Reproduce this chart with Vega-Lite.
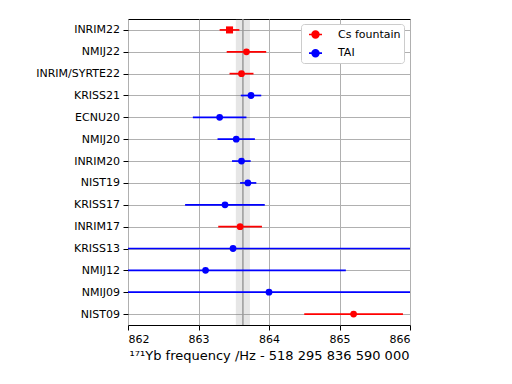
{
  "$schema": "https://vega.github.io/schema/vega-lite/v6.json",
  "width": 282,
  "height": 306,
  "autosize": {"type": "none"},
  "padding": {"left": 128, "top": 19, "right": 102, "bottom": 59},
  "background": "white",
  "config": {
    "font": "DejaVu Sans",
    "view": {"stroke": "black", "strokeWidth": 1},
    "axis": {
      "domain": false,
      "tickColor": "black",
      "tickSize": 5,
      "tickWidth": 1,
      "labelColor": "black",
      "labelFontSize": 11,
      "gridColor": "#b0b0b0",
      "gridWidth": 1,
      "titleColor": "black",
      "titleFontWeight": "normal"
    }
  },
  "datasets": {
    "meas": [
      {"name": "INRIM22", "type": "Cs fountain", "marker": "square", "value": 863.44, "lo": 863.30, "hi": 863.58},
      {"name": "NMIJ22", "type": "Cs fountain", "marker": "circle", "value": 863.68, "lo": 863.40, "hi": 863.96},
      {"name": "INRIM/SYRTE22", "type": "Cs fountain", "marker": "circle", "value": 863.61, "lo": 863.44, "hi": 863.78},
      {"name": "KRISS21", "type": "TAI", "marker": "circle", "value": 863.745, "lo": 863.60, "hi": 863.89},
      {"name": "ECNU20", "type": "TAI", "marker": "circle", "value": 863.30, "lo": 862.92, "hi": 863.68},
      {"name": "NMIJ20", "type": "TAI", "marker": "circle", "value": 863.535, "lo": 863.27, "hi": 863.80},
      {"name": "INRIM20", "type": "TAI", "marker": "circle", "value": 863.61, "lo": 863.475, "hi": 863.74},
      {"name": "NIST19", "type": "TAI", "marker": "circle", "value": 863.70, "lo": 863.59, "hi": 863.82},
      {"name": "KRISS17", "type": "TAI", "marker": "circle", "value": 863.376, "lo": 862.81, "hi": 863.94},
      {"name": "INRIM17", "type": "Cs fountain", "marker": "circle", "value": 863.59, "lo": 863.28, "hi": 863.90},
      {"name": "KRISS13", "type": "TAI", "marker": "circle", "value": 863.49, "lo": 855.4, "hi": 871.6},
      {"name": "NMIJ12", "type": "TAI", "marker": "circle", "value": 863.10, "lo": 861.1, "hi": 865.09},
      {"name": "NMIJ09", "type": "TAI", "marker": "circle", "value": 864.0, "lo": 850.0, "hi": 878.0},
      {"name": "NIST09", "type": "Cs fountain", "marker": "circle", "value": 865.2, "lo": 864.50, "hi": 865.90}
    ],
    "band": [{"lo": 863.53, "hi": 863.73, "center": 863.63}]
  },
  "layer": [
    {
      "data": {"name": "band"},
      "mark": {"type": "rect", "color": "#808080", "opacity": 0.2},
      "encoding": {
        "x": {
          "field": "lo", "type": "quantitative",
          "scale": {"domain": [862, 866], "nice": false, "zero": false},
          "axis": {"values": [862, 863, 864, 865, 866], "format": "d", "title": "¹⁷¹Yb frequency /Hz - 518 295 836 590 000", "titleFontSize": 13, "titlePadding": 5, "labelPadding": 3, "grid": true}
        },
        "x2": {"field": "hi"}
      }
    },
    {
      "data": {"name": "band"},
      "mark": {"type": "rule", "color": "#9a9a9a", "strokeWidth": 1.5},
      "encoding": {
        "x": {"field": "center", "type": "quantitative", "title": "¹⁷¹Yb frequency /Hz - 518 295 836 590 000"}
      }
    },
    {
      "data": {"name": "meas"},
      "mark": {"type": "rule", "strokeWidth": 1.7, "clip": true},
      "encoding": {
        "y": {"field": "name", "type": "nominal", "sort": null, "scale": {"type": "point", "padding": 0.5}, "axis": {"title": null, "labelPadding": 3.5, "grid": true}},
        "x": {"field": "lo", "type": "quantitative", "title": "¹⁷¹Yb frequency /Hz - 518 295 836 590 000"},
        "x2": {"field": "hi"},
        "color": {
          "field": "type", "type": "nominal",
          "scale": {"domain": ["Cs fountain", "TAI"], "range": ["#ff0000", "#0000ff"]},
          "legend": {
            "orient": "none", "legendX": 173, "legendY": 5, "title": null,
            "fillColor": "white", "strokeColor": "#cccccc", "cornerRadius": 3, "padding": 3,
            "labelFontSize": 11, "labelColor": "black", "labelOffset": 15,
            "symbolOffset": 4,
            "symbolType": "M-1,0L1,0M-0.52,0A0.52,0.52,0,1,1,0.52,0A0.52,0.52,0,1,1,-0.52,0Z",
            "symbolSize": 169, "symbolStrokeWidth": 1.7, "rowPadding": 3.7,
            "encode": {"symbols": {"update": {"fill": {"scale": "color", "field": "value"}, "stroke": {"scale": "color", "field": "value"}, "opacity": {"value": 1}}}}
          }
        }
      }
    },
    {
      "data": {"name": "meas"},
      "mark": {"type": "point", "filled": true, "opacity": 1},
      "encoding": {
        "y": {"field": "name", "type": "nominal", "sort": null},
        "x": {"field": "value", "type": "quantitative", "title": "¹⁷¹Yb frequency /Hz - 518 295 836 590 000"},
        "color": {"field": "type", "type": "nominal"},
        "shape": {"field": "marker", "type": "nominal", "scale": {"domain": ["circle", "square"], "range": ["circle", "square"]}, "legend": null},
        "size": {"field": "marker", "type": "ordinal", "scale": {"domain": ["circle", "square"], "range": [46, 50]}, "legend": null}
      }
    }
  ]
}
